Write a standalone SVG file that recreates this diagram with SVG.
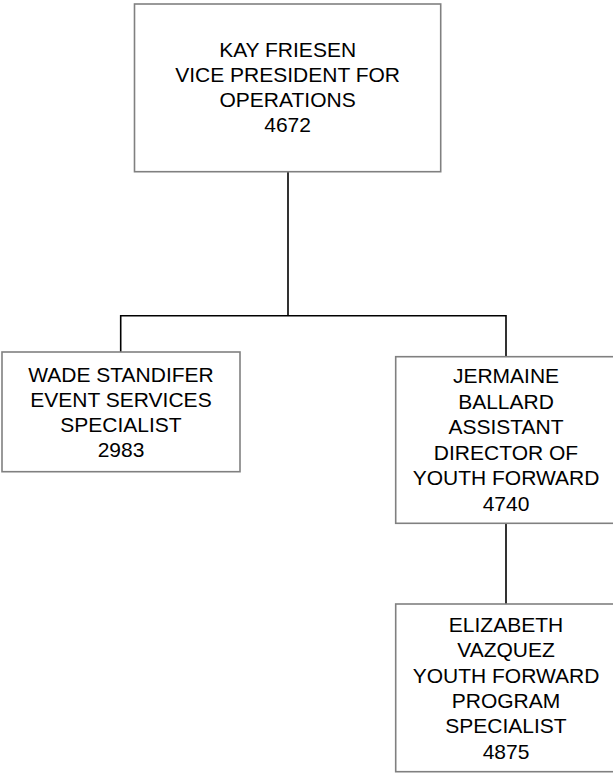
<svg xmlns="http://www.w3.org/2000/svg" width="613" height="777" viewBox="0 0 613 777">
<style>
.box{fill:#ffffff;stroke:#808080;stroke-width:1.6}
.lbl{font-family:"Liberation Sans",Arial,sans-serif;font-size:21px;fill:#000000;text-anchor:middle}
.conn{fill:none;stroke:#000000;stroke-width:1.6}
</style>
<rect width="613" height="777" fill="#ffffff"/>
<g id="connectors">
<path class="conn" d="M288,172 V315.7 M120.7,352 V315.7 H506 V356.7 M506,523.3 V604"/>
</g>
<g id="node-kay">
<rect class="box" x="134.5" y="4" width="306.2" height="167.7"/>
<text class="lbl" x="287.6" y="56.7">KAY FRIESEN</text>
<text class="lbl" x="287.6" y="81.9">VICE PRESIDENT FOR</text>
<text class="lbl" x="287.6" y="107.1">OPERATIONS</text>
<text class="lbl" x="287.6" y="132.3">4672</text>
</g>
<g id="node-wade">
<rect class="box" x="2" y="352" width="238" height="119.7"/>
<text class="lbl" x="121" y="381.7">WADE STANDIFER</text>
<text class="lbl" x="121" y="406.9">EVENT SERVICES</text>
<text class="lbl" x="121" y="432.1">SPECIALIST</text>
<text class="lbl" x="121" y="457.3">2983</text>
</g>
<g id="node-jermaine">
<rect class="box" x="395.7" y="356.7" width="221" height="166.6"/>
<text class="lbl" x="506" y="383">JERMAINE</text>
<text class="lbl" x="506" y="408.5">BALLARD</text>
<text class="lbl" x="506" y="434">ASSISTANT</text>
<text class="lbl" x="506" y="459.5">DIRECTOR OF</text>
<text class="lbl" x="506" y="485">YOUTH FORWARD</text>
<text class="lbl" x="506" y="510.5">4740</text>
</g>
<g id="node-elizabeth">
<rect class="box" x="395.7" y="604" width="221" height="167.7"/>
<text class="lbl" x="506" y="631.5">ELIZABETH</text>
<text class="lbl" x="506" y="657">VAZQUEZ</text>
<text class="lbl" x="506" y="682.5">YOUTH FORWARD</text>
<text class="lbl" x="506" y="708">PROGRAM</text>
<text class="lbl" x="506" y="733">SPECIALIST</text>
<text class="lbl" x="506" y="758.5">4875</text>
</g>
</svg>
